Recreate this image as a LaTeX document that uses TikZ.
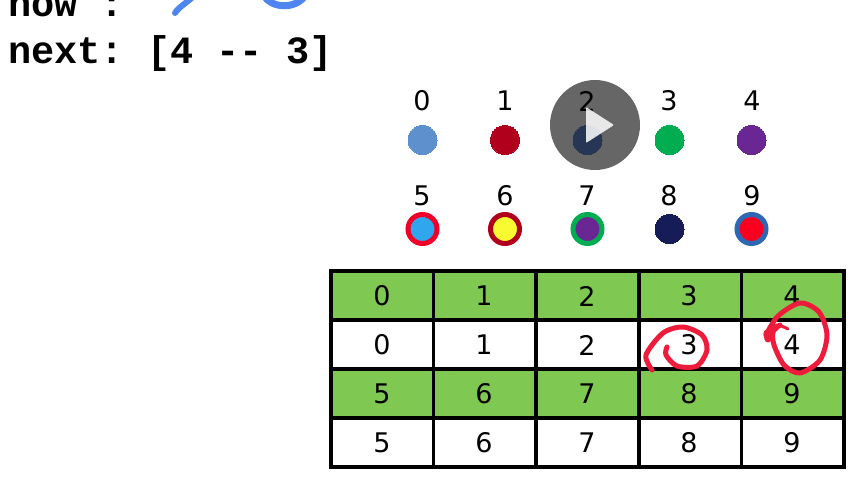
\documentclass[tikz,border=0pt]{standalone}
\usepackage{fontspec}
\setmainfont{DejaVu Sans}
\newfontfamily\codefont{Liberation Mono}
\usepackage{tikz}
\definecolor{cellgreen}{HTML}{7FC852}
\definecolor{inkred}{HTML}{EE1C3A}
\definecolor{inkblue}{HTML}{4F85F0}
\tikzset{
    dot/.style={draw,shape=circle,minimum size=29pt,line width=0pt,inner sep=0},
    ringdot/.style={draw,shape=circle,minimum size=29pt,line width=5pt,inner sep=0},
    numlabel/.style={font=\fontsize{27}{27}\selectfont,inner sep=0},
    celltext/.style={font=\fontsize{27}{27}\selectfont,inner sep=0},
    codetext/.style={font=\codefont\bfseries\fontsize{38.6}{38.6}\selectfont\frenchspacing,anchor=base west,inner sep=0},
    inkstroke/.style={line width=5pt,line cap=round,line join=round,color=inkred},
    tableline/.style={line width=3.6pt,line cap=rect}
}
\begin{document}
\begin{tikzpicture}[x=1pt,y=-1pt]
        \useasboundingbox (0,0) rectangle (855,480);
        \fill[white] (0,0) rectangle (855,480);
        \begin{scope}
            \clip (0,0) rectangle (855,480);
            % code lines at the top
            \node[codetext] (nowline) at (8,16) {now :};
            \node[codetext] (nextline) at (8,63) {next: [4 -- 3]};
            \draw[inkblue,line width=6pt,line cap=round] (175,13) .. controls (178,8) and (186,3) .. (194,-4);
            \draw[inkblue,line width=7pt,line cap=round] (264,-4) .. controls (272,8) and (294,10) .. (305,-4);
        \end{scope}
        % colour legend
        \node[numlabel] (numzero) at (422,101) {0};
        \node[numlabel] (numone) at (505,101) {1};
        \node[numlabel] (numtwo) at (587,101) {2};
        \node[numlabel] (numthree) at (669,101) {3};
        \node[numlabel] (numfour) at (752,101) {4};
        \node[numlabel] (numfive) at (422,196) {5};
        \node[numlabel] (numsix) at (505,196) {6};
        \node[numlabel] (numseven) at (587,196) {7};
        \node[numlabel] (numeight) at (669,196) {8};
        \node[numlabel] (numnine) at (752,196) {9};
        \node[dot,fill={rgb,255:red,95;green,144;blue,206},draw={rgb,255:red,95;green,144;blue,206}] (dotzero) at (422.5,140) {};
        \node[dot,fill={rgb,255:red,176;green,0;blue,28},draw={rgb,255:red,176;green,0;blue,28}] (dotone) at (505,140) {};
        \node[dot,fill={rgb,255:red,95;green,137;blue,212},draw={rgb,255:red,95;green,137;blue,212}] (dottwo) at (587.5,140) {};
        \node[dot,fill={rgb,255:red,0;green,173;blue,80},draw={rgb,255:red,0;green,173;blue,80}] (dotthree) at (669.5,140) {};
        \node[dot,fill={rgb,255:red,106;green,38;blue,146},draw={rgb,255:red,106;green,38;blue,146}] (dotfour) at (751.5,140) {};
        \node[ringdot,fill={rgb,255:red,48;green,166;blue,236},draw={rgb,255:red,240;green,0;blue,40}] (dotfive) at (422.5,229) {};
        \node[ringdot,fill={rgb,255:red,250;green,250;blue,50},draw={rgb,255:red,176;green,0;blue,28}] (dotsix) at (505,229) {};
        \node[ringdot,fill={rgb,255:red,106;green,38;blue,146},draw={rgb,255:red,0;green,173;blue,80}] (dotseven) at (587.5,229) {};
        \node[dot,fill={rgb,255:red,22;green,28;blue,88},draw={rgb,255:red,22;green,28;blue,88}] (doteight) at (669.5,229) {};
        \node[ringdot,fill={rgb,255:red,250;green,0;blue,32},draw={rgb,255:red,46;green,104;blue,180}] (dotnine) at (751.5,229) {};
        % table
        \fill[cellgreen] (331,271) rectangle (844,320);
        \fill[cellgreen] (331,369) rectangle (844,418);
        \draw[tableline] (331,271) rectangle (844,467);
        \draw[tableline] (331,320) -- (844,320);
        \draw[tableline] (331,369) -- (844,369);
        \draw[tableline] (331,418) -- (844,418);
        \draw[tableline] (433.5,271) -- (433.5,467);
        \draw[tableline] (536,271) -- (536,467);
        \draw[tableline] (639,271) -- (639,467);
        \draw[tableline] (741.5,271) -- (741.5,467);
        \node[celltext] (topzero) at (382,296) {0};
        \node[celltext] (topone) at (484,296) {1};
        \node[celltext] (toptwo) at (587,296) {2};
        \node[celltext] (topthree) at (689,296) {3};
        \node[celltext] (topfour) at (792,296) {4};
        \node[celltext] (zero) at (382,345) {0};
        \node[celltext] (one) at (484,345) {1};
        \node[celltext] (two) at (587,345) {2};
        \node[celltext] (three) at (689,345) {3};
        \node[celltext] (four) at (792,345) {4};
        \node[celltext] (botfive) at (382,394) {5};
        \node[celltext] (botsix) at (484,394) {6};
        \node[celltext] (botseven) at (587,394) {7};
        \node[celltext] (boteight) at (689,394) {8};
        \node[celltext] (botnine) at (792,394) {9};
        \node[celltext] (five) at (382,443) {5};
        \node[celltext] (six) at (484,443) {6};
        \node[celltext] (seven) at (587,443) {7};
        \node[celltext] (eight) at (689,443) {8};
        \node[celltext] (nine) at (792,443) {9};
        % red pen marks
        \draw[inkstroke] plot[smooth] coordinates {(652,370) (646,355) (663,333) (683,327) (702,335) (707,350) (697,366) (677,366) (666,355) (667,347)};
        \draw[inkstroke,line width=3pt] plot[smooth] coordinates {(788,329) (777,325) (770,332)};
        \draw[inkstroke,line width=7pt] plot[smooth] coordinates {(767,333) (768,339)};
        \draw[inkstroke] plot[smooth] coordinates {(766,335) (778,316) (800,303) (819,312) (827,335) (820,360) (800,373) (784,365) (774,345) (773,332) (780,325)};
        % play button overlay
        \node[draw=none,fill=black,opacity=0.6,shape=circle,minimum size=90pt,inner sep=0] (playdisc) at (595,125) {};
        \fill[white,opacity=0.85,rounded corners=1pt] (586,107) -- (614,125) -- (586,143) -- cycle;
    \end{tikzpicture}
\end{document}
